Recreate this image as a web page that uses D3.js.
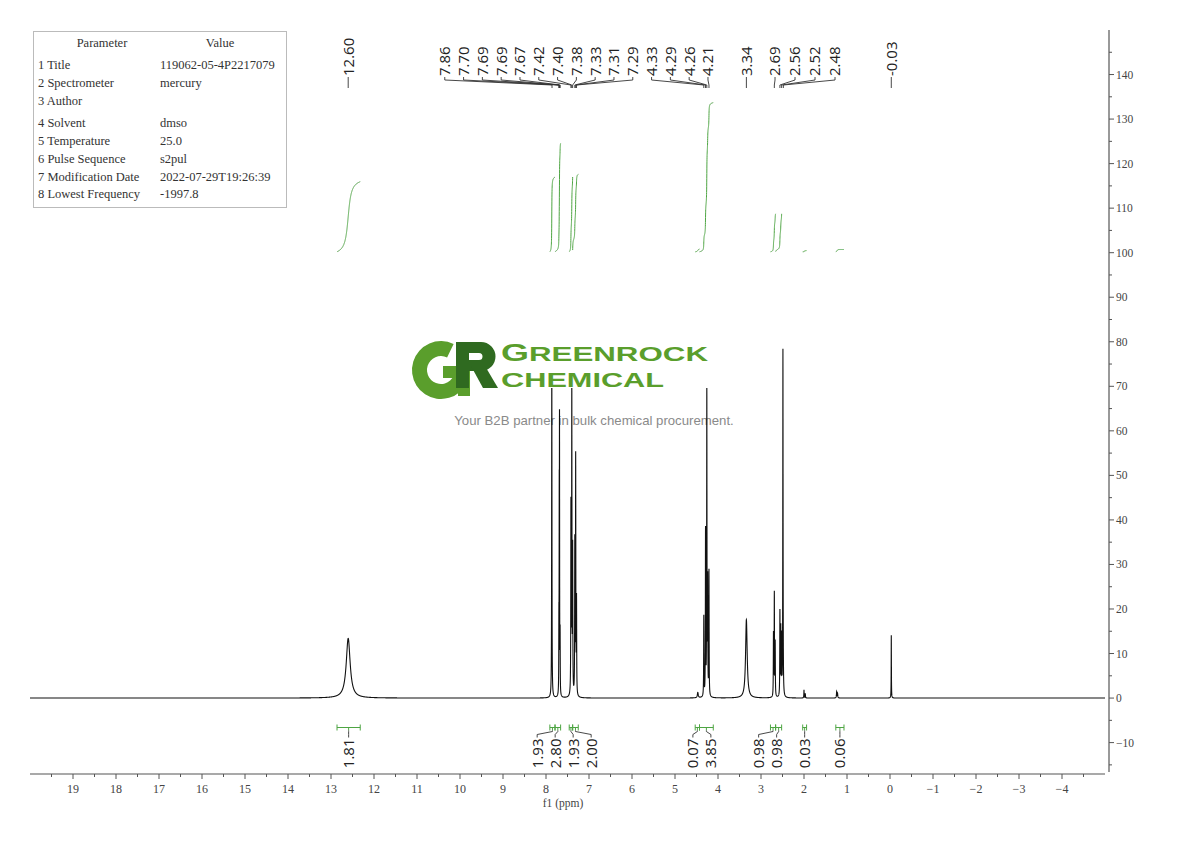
<!DOCTYPE html>
<html>
<head>
<meta charset="utf-8">
<script src="https://cdn.jsdelivr.net/npm/d3@7/dist/d3.min.js"></script>
<style>
  html, body { margin: 0; padding: 0; background: #fff; }
  svg { display: block; }
</style>
</head>
<body>
<svg id="chart" width="1190" height="841"></svg>
<script>
// ---------------- DATA ----------------
// Peaks (ppm, height in intensity units, half-width in ppm)
const peakPpm    = [12.60, 7.865, 7.700, 7.692, 7.686, 7.672, 7.420, 7.400, 7.380, 7.330, 7.310, 7.290,
                    4.470, 4.330, 4.290, 4.260, 4.240, 4.210, 3.340, 2.710, 2.690, 2.670,
                    2.560, 2.540, 2.520, 2.490, 2.000, 1.970, 1.240, 1.220, -0.030];
const peakHeight = [13.4, 80, 14, 38, 56, 13, 42, 70, 32, 34, 53, 21,
                    1.2, 18, 37, 70, 25, 28, 17.6, 14, 23, 12,
                    19, 15, 13, 78, 1.8, 1.0, 1.4, 1.0, 14.1];
const peakWidth  = [0.055, 0.004, 0.003, 0.003, 0.003, 0.003, 0.004, 0.004, 0.004, 0.004, 0.004, 0.004,
                    0.012, 0.004, 0.004, 0.004, 0.004, 0.004, 0.022, 0.004, 0.004, 0.004,
                    0.004, 0.004, 0.004, 0.004, 0.004, 0.004, 0.006, 0.006, 0.003];

// Peak pick labels (top)
const peakLabels = ["12.60", "7.86", "7.70", "7.69", "7.69", "7.67", "7.42", "7.40", "7.38", "7.33", "7.31", "7.29",
                    "4.33", "4.29", "4.26", "4.21", "3.34", "2.69", "2.56", "2.52", "2.48", "-0.03"];

// Integrals
const integralFrom  = [12.86, 7.91, 7.79, 7.46, 7.38, 4.53, 4.43, 2.78, 2.66, 2.03, 1.26];
const integralTo    = [12.32, 7.79, 7.66, 7.38, 7.25, 4.43, 4.11, 2.66, 2.52, 1.94, 1.07];
const integralValue = [1.81, 1.93, 2.80, 1.93, 2.00, 0.07, 3.85, 0.98, 0.98, 0.03, 0.06];

// Axes ticks
const xTickValues = [19,18,17,16,15,14,13,12,11,10,9,8,7,6,5,4,3,2,1,0,-1,-2,-3,-4];
const yTickValues = [-10,0,10,20,30,40,50,60,70,80,90,100,110,120,130,140];

// Parameter table
const paramNames  = ["1 Title", "2 Spectrometer", "3 Author", "4 Solvent", "5 Temperature",
                     "6 Pulse Sequence", "7 Modification Date", "8 Lowest Frequency"];
const paramValues = ["119062-05-4P2217079", "mercury", "", "dmso", "25.0", "s2pul",
                     "2022-07-29T19:26:39", "-1997.8"];

// ---------------- LAYOUT ----------------
const svg = d3.select("#chart");
const x = d3.scaleLinear().domain([20, -5]).range([30, 1105]);
const y = d3.scaleLinear().domain([-16.6, 150]).range([772, 30]);
const INT_BASE = 100, INT_SCALE = 8.7;
const GREEN = "#4ea543";
const serif = "'Liberation Serif', 'DejaVu Serif', serif";
const sans = "'Open Sans', 'Liberation Sans', Arial, sans-serif";

// ---------------- SPECTRUM ----------------
const step = 0.001;
const spec = [];
for (let i = 0; i <= 25000; i++) {
  const p = +(20 - i * step).toFixed(3);
  let v = 0;
  for (let k = 0; k < peakPpm.length; k++) {
    const d = (p - peakPpm[k]) / peakWidth[k];
    v += peakHeight[k] / (1 + d * d);
  }
  spec.push([p, v]);
}

// logo tagline (under spectrum)
svg.append("text").attr("x", 594).attr("y", 425).attr("text-anchor", "middle")
  .attr("font-family", "'Liberation Sans', Arial, sans-serif").attr("font-size", 13.2)
  .attr("fill", "#8a8a8a").text("Your B2B partner in bulk chemical procurement.");

const line = d3.line().x(d => x(d[0])).y(d => y(d[1]));
svg.append("path").datum(spec).attr("d", line)
  .attr("fill", "none").attr("stroke", "#111").attr("stroke-width", 1.1);

// ---------------- INTEGRAL CURVES ----------------
integralFrom.forEach((a, i) => {
  const b = integralTo[i];
  const pts = spec.filter(d => d[0] <= a && d[0] >= b);
  const total = d3.sum(pts, d => d[1]);
  let c = 0;
  const rise = integralValue[i] * INT_SCALE;
  const curve = pts.map(d => { c += d[1]; return [d[0], INT_BASE + 0.2 + rise * c / total]; });
  svg.append("path").datum(curve).attr("d", line)
    .attr("fill", "none").attr("stroke", GREEN).attr("stroke-width", 1);
});

// ---------------- INTEGRAL BRACKETS & LABELS ----------------
const bracketY = 727.5;
const intClusters = [[0,0,"center"],[1,4,"center"],[5,6,"center"],[7,8,"right"],[9,9,"center"],[10,10,"center"]];
const intSpacing = 18;
const intLabelX = [];
intClusters.forEach(([s, e, mode]) => {
  const centers = d3.range(s, e + 1).map(i => x((integralFrom[i] + integralTo[i]) / 2));
  const n = e - s + 1;
  let start;
  if (mode === "center") start = d3.mean(centers) - (n - 1) / 2 * intSpacing;
  else start = centers[n - 1] - 2 - (n - 1) * intSpacing;
  for (let j = 0; j < n; j++) intLabelX[s + j] = start + j * intSpacing;
});
const gI = svg.append("g");
integralFrom.forEach((a, i) => {
  const x1 = x(a), x2 = x(integralTo[i]), bx = (x1 + x2) / 2, lx = intLabelX[i];
  gI.append("path").attr("d", `M${x1},${bracketY - 3}V${bracketY + 3}M${x1},${bracketY}H${x2}M${x2},${bracketY - 3}V${bracketY + 3}M${bx},${bracketY}V${bracketY + 3}`)
    .attr("stroke", GREEN).attr("fill", "none").attr("stroke-width", 1);
  gI.append("path").attr("d", `M${bx},${bracketY + 3}L${bx},${bracketY + 4}L${lx},${bracketY + 7}L${lx},${bracketY + 10}`)
    .attr("stroke", "#333").attr("fill", "none").attr("stroke-width", 0.9);
  gI.append("text").attr("transform", `translate(${lx},${bracketY + 11}) rotate(-90)`)
    .attr("text-anchor", "end").attr("dy", "0.36em")
    .attr("font-family", sans).attr("font-size", 15).attr("fill", "#222")
    .text(integralValue[i].toFixed(2));
});

// ---------------- PEAK LABELS (TOP) ----------------
const peakLabelPpm = peakLabels.map(s => +s);
const topClusters = [[0,0,"center"],[1,15,"right"],[16,16,"center"],[17,20,"left"],[21,21,"center"]];
const topSpacing = 18.8;
const topLabelX = [];
topClusters.forEach(([s, e, mode]) => {
  const n = e - s + 1;
  const px = d3.range(s, e + 1).map(i => x(peakLabelPpm[i]));
  let start;
  if (mode === "center") start = d3.mean(px) - (n - 1) / 2 * topSpacing;
  else if (mode === "right") start = px[n - 1] - 1 - (n - 1) * topSpacing;
  else start = px[0] + 0.7;
  const sp = mode === "left" ? 20 : topSpacing;
  for (let j = 0; j < n; j++) topLabelX[s + j] = start + j * sp;
});
const gT = svg.append("g");
peakLabels.forEach((t, i) => {
  const lx = topLabelX[i], px = x(peakLabelPpm[i]);
  gT.append("text").attr("transform", `translate(${lx},76) rotate(-90)`)
    .attr("text-anchor", "start").attr("dy", "0.36em")
    .attr("font-family", sans).attr("font-size", 15).attr("fill", "#222")
    .text(t);
  gT.append("path").attr("d", `M${lx},77L${lx},80L${px},85L${px},88`)
    .attr("stroke", "#333").attr("fill", "none").attr("stroke-width", 0.9);
});

// ---------------- LOGO (watermark) ----------------
const gL = svg.append("g");
gL.append("rect").attr("x", 410).attr("y", 338).attr("width", 302).attr("height", 50).attr("fill", "#fff");
// "G" ring mark
const gArc = d3.arc().innerRadius(14).outerRadius(29).startAngle(Math.PI / 2).endAngle(2 * Math.PI + 0.45);
gL.append("path").attr("d", gArc()).attr("transform", "translate(441,370)").attr("fill", "#5a9e2c");
gL.append("rect").attr("x", 443).attr("y", 366).attr("width", 27).attr("height", 12).attr("fill", "#5a9e2c");
gL.append("rect").attr("x", 458).attr("y", 370).attr("width", 12).attr("height", 26).attr("fill", "#5a9e2c");
// "R" mark (drawn as shapes)
gL.append("path").attr("fill", "#2f6a20").attr("fill-rule", "evenodd")
  .attr("d", "M456,342 H481 A14.5,14.5 0 0 1 481,371 H469 V388 H456 Z M469,353 H479 A3.5,3.5 0 0 1 479,360 H469 Z");
gL.append("path").attr("fill", "#2f6a20").attr("d", "M471,366 H485 L498,388 H483 Z");
// Wordmark
const wmFont = "'Liberation Sans', Arial, sans-serif";
const t1 = gL.append("text").attr("x", 501).attr("y", 361).attr("font-family", wmFont)
  .attr("font-weight", "bold").attr("fill", "#5a9e2c")
  .attr("textLength", 207).attr("lengthAdjust", "spacingAndGlyphs");
t1.append("tspan").attr("font-size", 23).text("G");
t1.append("tspan").attr("font-size", 20).text("REENROCK");
const t2 = gL.append("text").attr("x", 501).attr("y", 386.5).attr("font-family", wmFont)
  .attr("font-weight", "bold").attr("fill", "#5a9e2c")
  .attr("textLength", 163).attr("lengthAdjust", "spacingAndGlyphs");
t2.append("tspan").attr("font-size", 21).text("C");
t2.append("tspan").attr("font-size", 20).text("HEMICAL");

// ---------------- X AXIS ----------------
const axisY = 774;
const gx = svg.append("g").attr("transform", `translate(0,${axisY})`);
gx.append("line").attr("x1", 30).attr("x2", 1105).attr("stroke", "#555").attr("stroke-width", 1.2);
const xMinor = d3.range(19.5, -5, -1);
gx.selectAll(".xmin").data(xMinor).join("line")
  .attr("x1", d => x(d)).attr("x2", d => x(d)).attr("y1", 0).attr("y2", 3)
  .attr("stroke", "#555");
gx.selectAll(".xmaj").data(xTickValues).join("line")
  .attr("x1", d => x(d)).attr("x2", d => x(d)).attr("y1", 0).attr("y2", 5)
  .attr("stroke", "#555");
gx.selectAll(".xl").data(xTickValues).join("text")
  .attr("x", d => x(d)).attr("y", 19).attr("text-anchor", "middle")
  .attr("font-family", serif).attr("font-size", 12).attr("fill", "#444")
  .text(d => d < 0 ? "\u2212" + Math.abs(d) : d);
svg.append("text").attr("x", 563).attr("y", 807).attr("text-anchor", "middle")
  .attr("font-family", serif).attr("font-size", 11.5).attr("fill", "#444").text("f1 (ppm)");

// ---------------- Y AXIS (right) ----------------
const axisX = 1109;
const gy = svg.append("g").attr("transform", `translate(${axisX},0)`);
gy.append("line").attr("y1", 30).attr("y2", 772).attr("stroke", "#777").attr("stroke-width", 1.5);
const yMinor = d3.range(-15, 150, 10);
gy.selectAll(".ymin").data(yMinor).join("line")
  .attr("y1", d => y(d)).attr("y2", d => y(d)).attr("x1", 0).attr("x2", 3).attr("stroke", "#555");
gy.selectAll(".ymaj").data(yTickValues).join("line")
  .attr("y1", d => y(d)).attr("y2", d => y(d)).attr("x1", 0).attr("x2", 5).attr("stroke", "#555");
gy.selectAll(".yl").data(yTickValues).join("text")
  .attr("x", 7).attr("y", d => y(d)).attr("dy", "0.35em")
  .attr("font-family", serif).attr("font-size", 11.5).attr("fill", "#444")
  .text(d => d < 0 ? "\u2212" + Math.abs(d) : d);

// ---------------- PARAMETER TABLE ----------------
const gP = svg.append("g");
gP.append("rect").attr("x", 33.5).attr("y", 31.5).attr("width", 253).attr("height", 176)
  .attr("fill", "#fff").attr("stroke", "#bbb");
gP.append("text").attr("x", 102).attr("y", 47).attr("text-anchor", "middle")
  .attr("font-family", serif).attr("font-size", 12.5).attr("fill", "#333").text("Parameter");
gP.append("text").attr("x", 220).attr("y", 47).attr("text-anchor", "middle")
  .attr("font-family", serif).attr("font-size", 12.5).attr("fill", "#333").text("Value");
const rowY = [69, 87, 105, 127, 145, 163, 181, 198];
paramNames.forEach((n, i) => {
  gP.append("text").attr("x", 38).attr("y", rowY[i])
    .attr("font-family", serif).attr("font-size", 12.5).attr("fill", "#333").text(n);
  gP.append("text").attr("x", 160).attr("y", rowY[i])
    .attr("font-family", serif).attr("font-size", 12.5).attr("fill", "#333").text(paramValues[i]);
});
</script>
</body>
</html>
